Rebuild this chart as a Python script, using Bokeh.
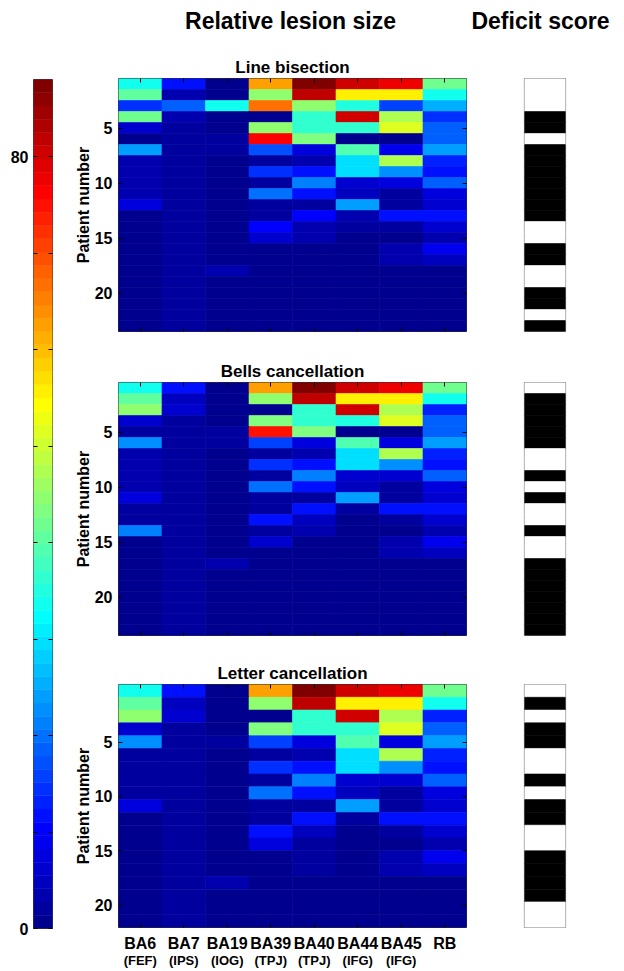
import numpy as np
from bokeh.plotting import figure
from bokeh.models import (Range1d, LinearAxis, FixedTicker, LinearColorMapper,
                          ColumnDataSource, Label)
from bokeh.layouts import column, row
from bokeh.embed import file_html
from bokeh.resources import INLINE

# ---------------- data ----------------
regions = ["BA6", "BA7", "BA19", "BA39", "BA40", "BA44", "BA45", "RB"]
region_sub = ["(FEF)", "(IPS)", "(IOG)", "(TPJ)", "(TPJ)", "(IFG)", "(IFG)", ""]

# rows = patients (top to bottom), columns = regions above; relative lesion size (%)
line_bisection = [
    [33, 12, 1, 62, 87, 80, 77, 42],
    [40, 3, 1, 45, 82, 55, 56, 33],
    [15, 19, 33, 66, 44, 35, 16, 25],
    [42, 4, 1, 1, 37, 81, 48, 14],
    [6, 1.5, 0.5, 44, 37, 36, 51, 18],
    [1, 2.5, 2, 76, 43, 1, 1, 19],
    [24, 1.5, 1.5, 17, 7, 39, 9, 24],
    [3, 1.5, 1, 2, 3, 29, 47, 13],
    [3, 1.5, 1, 14, 11, 29, 22, 12],
    [3, 1.5, 1, 2, 21, 6, 7, 18],
    [3, 1.5, 1, 20, 12, 5, 2, 7],
    [7, 1.5, 1, 1.5, 2, 24, 2, 6],
    [1, 1.5, 1, 1.5, 10, 4, 11, 11],
    [1, 1.5, 1, 10, 4, 1.5, 1.5, 6],
    [1, 1.5, 1, 6, 3, 1, 1, 3],
    [1, 1.5, 1, 1, 1, 1, 3, 9],
    [1, 1.5, 1, 1, 1, 1, 3, 5],
    [1, 1.5, 3.5, 1, 1, 1, 1, 1],
    [1, 1.5, 1, 1, 1, 1, 1, 1],
    [1, 1.5, 1, 1, 1, 1, 1, 1],
    [1, 1.5, 1, 1, 1, 1, 1, 1],
    [1, 1.5, 1, 1, 1, 1, 1, 1],
    [1, 1.5, 1, 1, 1, 1, 1, 1],
]
bells_cancellation = [
    [33, 12, 1, 62, 87, 80, 77, 42],
    [40, 5, 1, 45, 82, 55, 56, 33],
    [44, 6, 1, 1, 37, 81, 48, 13],
    [6, 2, 1, 43, 37, 35, 51, 18],
    [1.5, 2.5, 2, 75, 43, 1, 1, 19],
    [23, 2, 2.5, 16, 8, 39, 8, 24],
    [3, 1.5, 1, 2, 3, 29, 47, 13],
    [3, 1.5, 1, 14, 11, 29, 22, 12],
    [3, 1.5, 1, 1.5, 21, 6, 6, 18],
    [3, 1.5, 1, 20, 12, 5, 2, 7],
    [8, 1.5, 1, 1.5, 2, 24, 2, 6],
    [2, 1.5, 1, 1.5, 12, 2, 11, 11],
    [2, 1.5, 1, 12, 5, 1, 1.5, 6],
    [21, 1.5, 1, 2, 3, 1, 1, 3],
    [1, 1.5, 1, 6, 1, 1, 3, 9],
    [1, 1.5, 1, 1, 1, 1, 3, 5],
    [1, 1.5, 3.5, 1, 1, 1, 1, 1],
    [1, 1.5, 1, 1, 1, 1, 1, 1],
    [1, 1.5, 1, 1, 1, 1, 1, 1],
    [1, 1.5, 1, 1, 1, 1, 1, 1],
    [1, 1.5, 1, 1, 1, 1, 1, 1],
    [1, 1.5, 1, 1, 1, 1, 1, 1],
    [1, 1.5, 1, 1, 1, 1, 1, 1],
]
letter_cancellation = [
    [33, 12, 1, 62, 87, 80, 77, 42],
    [40, 5, 1, 45, 82, 55, 56, 33],
    [44, 6, 1, 1, 37, 81, 48, 13],
    [6, 1.5, 1, 43, 37, 36, 51, 18],
    [23, 1.5, 2, 16, 8, 39, 8, 24],
    [2.5, 1.5, 1, 2, 3, 29, 47, 13],
    [2.5, 1.5, 1, 14, 11, 29, 22, 12],
    [2.5, 1.5, 1, 1.5, 21, 6, 6, 18],
    [2.5, 1.5, 1, 20, 12, 5, 2, 7],
    [8, 1.5, 1, 1.5, 2, 24, 2, 6],
    [1, 1.5, 1, 1.5, 12, 2.5, 11, 11],
    [1, 1.5, 1, 12, 5, 1, 1.5, 6],
    [1, 1.5, 1, 7, 1.5, 1, 1, 3],
    [1, 1.5, 1, 1, 1.5, 1, 3, 9],
    [1, 1.5, 1, 1, 1.5, 1, 3, 5],
    [1, 1.5, 3.5, 1, 1, 1, 1, 1],
    [1, 1.5, 1, 1, 1, 1, 1, 1],
    [1, 1.5, 1, 1, 1, 1, 1, 1],
    [1, 1.5, 1, 1, 1, 1, 1, 1],
]
# deficit score: 1 = deficit (black), 0 = no deficit (white)
deficit_line = [0, 0, 0, 1, 1, 0, 1, 1, 1, 1, 1, 1, 1, 0, 0, 1, 1, 0, 0, 1, 1, 0, 1]
deficit_bells = [0, 1, 1, 1, 1, 1, 0, 0, 1, 0, 1, 0, 0, 1, 0, 0, 1, 1, 1, 1, 1, 1, 1]
deficit_letter = [0, 1, 0, 1, 1, 0, 0, 1, 0, 1, 1, 0, 0, 1, 1, 1, 1, 0, 0]

colorbar_max = 88
colorbar_ticks = [0, 10, 20, 30, 40, 50, 60, 70, 80]
colorbar_labels = {0: "0", 80: "80"}
ytick_values_23 = [5, 10, 15, 20]
ytick_values_19 = [5, 9.25, 13.5, 17.75]
ytick_labels = ["5", "10", "15", "20"]

FONT = "Liberation Sans"


def jet(m=64):
    n = int(np.ceil(m / 4))
    u = np.concatenate([np.arange(1, n + 1) / n, np.ones(n - 1), np.arange(n, 0, -1) / n])
    g = int(np.ceil(n / 2)) - (1 if m % 4 == 1 else 0) + np.arange(1, len(u) + 1)
    r = g + n
    b = g - n
    J = np.zeros((m, 3))
    for arr, ch in ((r, 0), (g, 1), (b, 2)):
        mask = (arr >= 1) & (arr <= m)
        J[arr[mask] - 1, ch] = u[mask]
    return ["#%02x%02x%02x" % tuple(int(round(c * 255)) for c in rgb) for rgb in J]


JET = jet(64)
mapper = LinearColorMapper(palette=JET, low=0, high=colorbar_max)
bw_mapper = LinearColorMapper(palette=["#ffffff", "#000000"], low=0, high=1)


def tick_axis(ticks, labels=None, font_size="16px", tick_in=4, **kw):
    ax = LinearAxis(ticker=FixedTicker(ticks=ticks), **kw)
    if labels is None:
        ax.major_label_overrides = {t: "" for t in ticks}
        ax.major_label_standoff = 0
        ax.major_label_text_font_size = "1px"
    else:
        ax.major_label_overrides = labels
        ax.major_label_text_font_size = font_size
    ax.major_label_text_font = FONT
    ax.major_label_text_font_style = "bold"
    ax.major_label_text_color = "black"
    ax.axis_line_color = None
    ax.major_tick_in = tick_in
    ax.major_tick_out = 0
    ax.major_tick_line_color = "black" if tick_in else None
    ax.minor_tick_line_color = None
    return ax


CB_W, CB_L, CB_R = 60, 33, 8
HEAT_W, HEAT_L, HEAT_R = 426, 58, 20
DEF_W, DEF_L, DEF_R = 138, 38, 59


def heat_panel(title, data, yticks, top_b, frame_h, bot_b, xlabels=False):
    nrows = len(data)
    xs, ys, vs = [], [], []
    for i, rowvals in enumerate(data):
        for j, v in enumerate(rowvals):
            xs.append(j + 1)
            ys.append(i + 1)
            vs.append(v)
    src = ColumnDataSource(dict(x=xs, y=ys, v=vs))
    p = figure(width=HEAT_W, height=top_b + frame_h + bot_b,
               x_range=Range1d(0.5, 8.5), y_range=Range1d(nrows + 0.5, 0.5),
               toolbar_location=None, output_backend="svg",
               min_border_left=HEAT_L, min_border_right=HEAT_R,
               min_border_top=top_b, min_border_bottom=bot_b,
               x_axis_location=None, y_axis_location=None, title=title)
    p.title.align = "center"
    p.title.text_font = FONT
    p.title.text_font_size = "17px"
    p.title.text_font_style = "bold"
    p.title.text_color = "black"
    p.title.standoff = 4
    p.grid.visible = False
    p.outline_line_color = "#303030"
    p.outline_line_width = 1
    p.rect(x="x", y="y", width=1, height=1, source=src,
           fill_color={"field": "v", "transform": mapper},
           line_color={"field": "v", "transform": mapper}, line_width=0.6)
    ylab = {t: l for t, l in zip(yticks, ytick_labels)}
    left = tick_axis(yticks, ylab, "16px")
    left.axis_label = "Patient number"
    left.axis_label_text_font = FONT
    left.axis_label_text_font_size = "16px"
    left.axis_label_text_font_style = "bold"
    left.axis_label_text_color = "black"
    left.axis_label_standoff = 0
    left.major_label_standoff = 6
    p.add_layout(left, "left")
    p.add_layout(tick_axis(yticks), "right")
    xt = list(range(1, 9))
    p.add_layout(tick_axis(xt), "above")
    if xlabels:
        a1 = tick_axis(xt, {i + 1: r for i, r in enumerate(regions)}, "16px")
        a1.major_label_standoff = 7
        p.add_layout(a1, "below")
        a2 = tick_axis(xt, {i + 1: s for i, s in enumerate(region_sub)}, "13px", tick_in=0)
        a2.major_label_standoff = -2
        p.add_layout(a2, "below")
    else:
        p.add_layout(tick_axis(xt), "below")
    return p


def deficit_panel(scores, top_b, frame_h, bot_b):
    n = len(scores)
    src = ColumnDataSource(dict(y=list(range(1, n + 1)), s=scores))
    p = figure(width=DEF_W, height=top_b + frame_h + bot_b,
               x_range=Range1d(0, 1), y_range=Range1d(n + 0.5, 0.5),
               toolbar_location=None, output_backend="svg",
               min_border_left=DEF_L, min_border_right=DEF_R,
               min_border_top=top_b, min_border_bottom=bot_b,
               x_axis_location=None, y_axis_location=None)
    p.grid.visible = False
    p.outline_line_color = "#808080"
    p.outline_line_width = 1.2
    p.rect(x=0.5, y="y", width=1, height=1, source=src,
           fill_color={"field": "s", "transform": bw_mapper},
           line_color={"field": "s", "transform": bw_mapper}, line_width=0.6)
    return p


# vertical layout (borders / frame heights), in page pixels
TOP_H = 38
P1 = (40, 253, 13)
P2 = (38, 253, 11)
P3 = (38, 243, 44)

h1 = heat_panel("Line bisection", line_bisection, ytick_values_23, *P1)
h2 = heat_panel("Bells cancellation", bells_cancellation, ytick_values_23, *P2)
h3 = heat_panel("Letter cancellation", letter_cancellation, ytick_values_19, *P3, xlabels=True)
d1 = deficit_panel(deficit_line, *P1)
d2 = deficit_panel(deficit_bells, *P2)
d3 = deficit_panel(deficit_letter, *P3)

# colorbar
total_h = sum(P1) + sum(P2) + sum(P3)
cb_top, cb_frame = 41, 849
cb = figure(width=CB_W, height=total_h, x_range=Range1d(0, 1), y_range=Range1d(0, colorbar_max),
            toolbar_location=None, output_backend="svg",
            min_border_left=CB_L, min_border_right=CB_R, min_border_top=cb_top,
            min_border_bottom=total_h - cb_top - cb_frame,
            x_axis_location=None, y_axis_location=None)
cb.grid.visible = False
cb.outline_line_color = "#404040"
levels = np.linspace(0, colorbar_max, len(JET) + 1)
cb.quad(left=0, right=1, bottom=levels[:-1], top=levels[1:], fill_color=JET,
        line_color=JET, line_width=0.5)
cbl = tick_axis(colorbar_ticks, {t: colorbar_labels.get(t, "") for t in colorbar_ticks}, "16px")
cbl.major_label_standoff = 5
cb.add_layout(cbl, "left")
cb.add_layout(tick_axis(colorbar_ticks), "right")

# top headings
TOTAL_W = CB_W + HEAT_W + DEF_W
top = figure(width=TOTAL_W, height=TOP_H, x_range=Range1d(0, TOTAL_W),
             y_range=Range1d(0, TOP_H), toolbar_location=None, output_backend="svg",
             min_border=0, x_axis_location=None, y_axis_location=None)
top.outline_line_color = None
top.grid.visible = False
for txt, xc in (("Relative lesion size", 290), ("Deficit score", 540)):
    top.add_layout(Label(x=xc, y=TOP_H - 20, text=txt, text_align="center",
                         text_baseline="middle", text_font=FONT, text_font_size="23px",
                         text_font_style="bold", text_color="black"))

layout = column(top, row(cb, column(h1, h2, h3), column(d1, d2, d3)))
open("out.html", "w").write(file_html(layout, INLINE))
